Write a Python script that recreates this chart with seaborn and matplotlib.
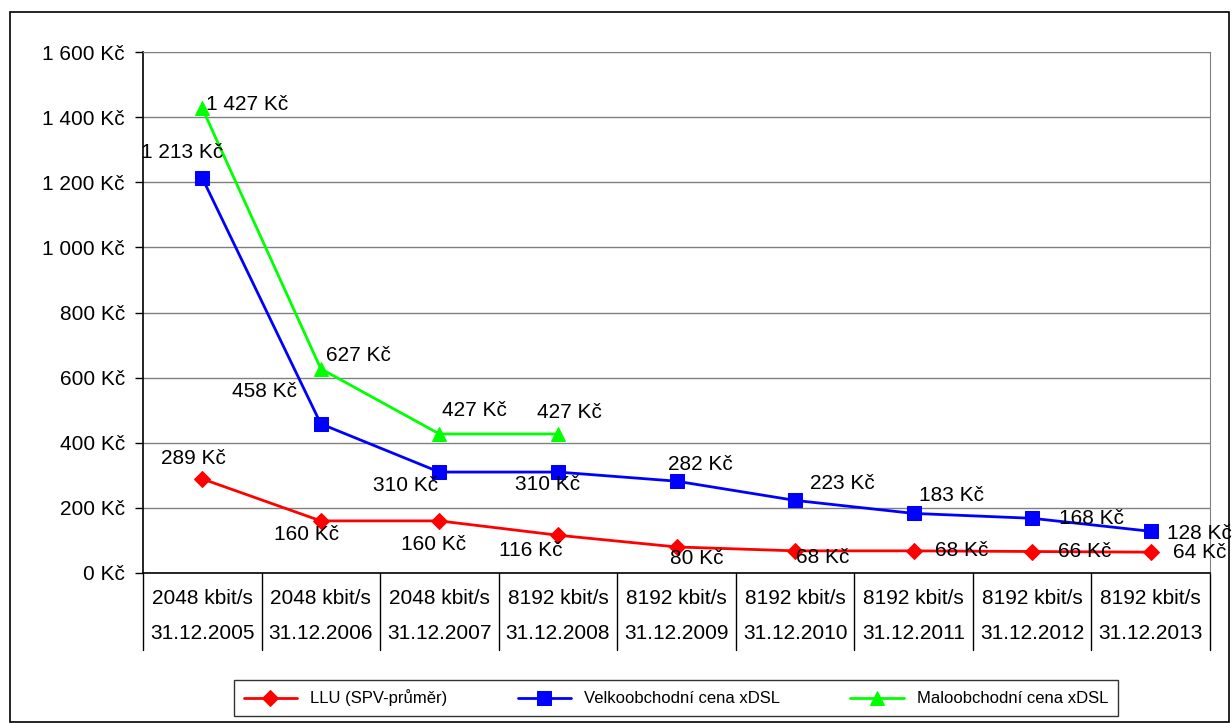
import matplotlib.pyplot as plt
import matplotlib.transforms as mtransforms
from matplotlib.patches import Rectangle
from matplotlib.ticker import FuncFormatter
import numpy as np
import pandas as pd
import seaborn as sns

speeds = ["2048 kbit/s", "2048 kbit/s", "2048 kbit/s", "8192 kbit/s", "8192 kbit/s",
          "8192 kbit/s", "8192 kbit/s", "8192 kbit/s", "8192 kbit/s"]
dates = ["31.12.2005", "31.12.2006", "31.12.2007", "31.12.2008", "31.12.2009",
         "31.12.2010", "31.12.2011", "31.12.2012", "31.12.2013"]
llu = [289, 160, 160, 116, 80, 68, 68, 66, 64]
velko = [1213, 458, 310, 310, 282, 223, 183, 168, 128]
malo = [1427, 627, 427, 427, np.nan, np.nan, np.nan, np.nan, np.nan]

series = [
    ("LLU (SPV-průměr)", llu, "#FF0000", "D", 8),
    ("Velkoobchodní cena xDSL", velko, "#0000FF", "s", 10),
    ("Maloobchodní cena xDSL", malo, "#00FF00", "^", 10),
]

# label offsets in pixels (dx, dy up)
offsets = {
    0: [(-9, 20), (-14, -14), (-6, -24), (-27, -15), (20, -12), (28, -7), (48, 0), (53, 0), (49, 0)],
    1: [(-20, 26), (-56, 32), (-34, -13), (-10, -12), (24, 17), (47, 17), (38, 18), (59, 0), (49, -2)],
    2: [(45, 4), (38, 13), (35, 23), (11, 21)],
}


def kc(v):
    return f"{int(v):,} Kč".replace(",", " ")


sns.set_style("white")
plt.rcParams["font.family"] = ["Liberation Sans", "DejaVu Sans"]
plt.rcParams["text.color"] = "black"
plt.rcParams["ytick.color"] = "black"
plt.rcParams["xtick.color"] = "black"

fig = plt.figure(figsize=(12.32, 7.23), dpi=100)
ax = fig.add_axes([143 / 1232, 150 / 723, 1067 / 1232, 521 / 723])
fig.patches.append(Rectangle((10 / 1232, 1 / 723), 1219 / 1232, 710 / 723,
                             transform=fig.transFigure, fill=False,
                             edgecolor="black", lw=1.2))

x = np.arange(len(dates))
for k, (name, vals, col, mk, ms) in enumerate(series):
    df = pd.DataFrame({"x": x, "y": vals}).dropna()
    sns.lineplot(data=df, x="x", y="y", ax=ax, color=col, lw=2, marker=mk,
                 markersize=ms, markeredgecolor=col, label=name)
    for i, v in enumerate(vals):
        if np.isnan(v):
            continue
        dx, dy = offsets[k][i]
        ax.annotate(kc(v), (i, v), xytext=(dx, dy), textcoords="offset pixels",
                    ha="center", va="center", fontsize=15, color="black")

ax.set_xlim(-0.5, len(dates) - 0.5)
ax.set_ylim(0, 1600)
ax.set_yticks(range(0, 1601, 200))
ax.yaxis.set_major_formatter(FuncFormatter(lambda v, p: kc(v)))
ax.tick_params(axis="y", labelsize=15, length=6, width=1, direction="out", left=True,
               pad=7, colors="black")
ax.grid(axis="y", color="#808080", lw=1)
ax.set_xticks([])
ax.set_xlabel("")
ax.set_ylabel("")
for s in ["top", "right"]:
    ax.spines[s].set_color("#808080")
for s in ["left", "bottom"]:
    ax.spines[s].set_color("black")
    ax.spines[s].set_linewidth(1.2)

# category table under the axis
trans = mtransforms.blended_transform_factory(ax.transData, ax.transAxes)
for b in np.arange(-0.5, len(dates), 1.0):
    ax.plot([b, b], [0, -0.148], transform=trans, color="black", lw=1, clip_on=False)
for i in range(len(dates)):
    ax.text(i, -0.048, speeds[i], transform=trans, ha="center", va="center", fontsize=15)
    ax.text(i, -0.117, dates[i], transform=trans, ha="center", va="center", fontsize=15)

leg = ax.legend(loc="center", bbox_to_anchor=(676 / 1232, 25 / 723),
                bbox_transform=fig.transFigure, ncol=3, fontsize=12, frameon=True,
                fancybox=False, edgecolor="black", handlelength=3.2,
                columnspacing=4.2, borderpad=0.6)
leg.get_frame().set_linewidth(1)

fig.savefig("out.png", dpi=100)
